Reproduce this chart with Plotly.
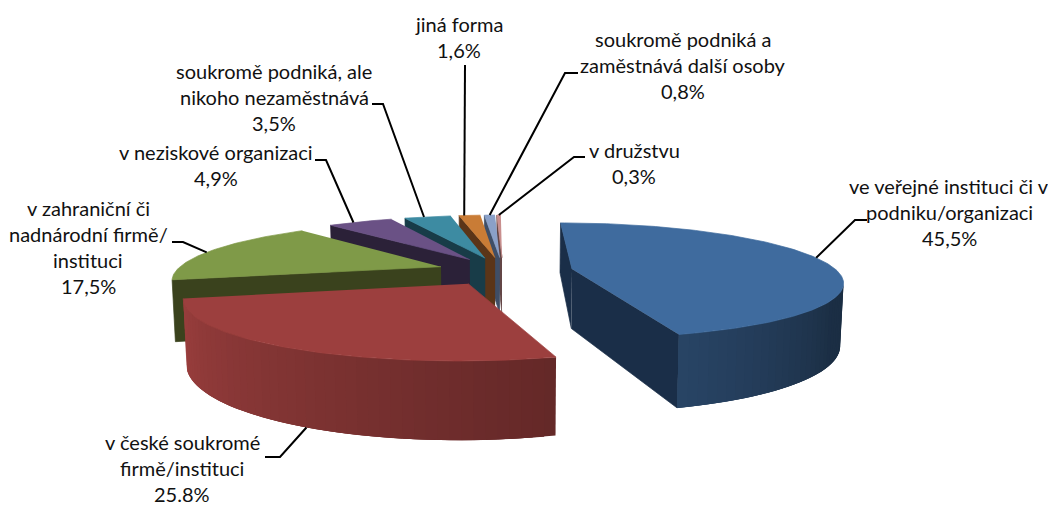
import numpy as np
import plotly.graph_objects as go

categories = ["ve veřejné instituci či v\npodniku/organizaci", "v české soukromé\nfirmě/instituci",
              "v zahraniční či\nnadnárodní firmě/\ninstituci", "v neziskové organizaci",
              "soukromě podniká, ale\nnikoho nezaměstnává", "jiná forma",
              "soukromě podniká a\nzaměstnává další osoby", "v družstvu"]
values = [45.5, 25.8, 17.5, 4.9, 3.5, 1.6, 0.8, 0.3]
value_labels = ["45,5%", "25.8%", "17,5%", "4,9%", "3,5%", "1,6%", "0,8%", "0,3%"]

top_colors = ["#3f6b9e", "#9c3f3e", "#7f9a48", "#6a5185", "#3d8ba2", "#c97c36", "#8aa0c8", "#c98f8e"]
side_colors = ["#1a2e48", "#652827", "#3a421d", "#2b2138", "#183c48", "#5b3518", "#3f4e66", "#634646"]

# Layout of the labels: centre x, y of the first line, elbow of the leader, depth where it lands
label_x = [949, 182, 88, 216, 274, 459, 683, 634]
label_y = [186, 442, 208, 152, 71, 24, 39, 150]
elbow_a = [(867, 220), (265, 457), (172, 242), (315, 160), (372, 104), None, (578, 73), (585, 157)]
elbow_b = [(855, 220), (280, 457), (183, 242), (326, 160), (383, 104), (465, 65), (565, 73), (574, 157)]
leader_depth = [0, 1, 0, 0, 0, 0, 0, 0]
leader_shift = [-4, -3, -2, -2, -1, -1.5, 0, 0]

# Projection of the 3-D pie
CX, CY, A, B, K, DEPTH, TAPER = 503, 271, 265, 56, 0.2, 60, 0.01
EXPLODE = [0.265, 0.25, 0.25, 0.25, 0.25, 0.25, 0.25, 0.25]
LINE_STEP = 26
FONT = "Lato"
FONT_SIZE = 20
PAGE_MARGIN = 8  # the page body offsets the figure by this much


def project(X, Y, Z=0.0):
    s = 1 / (1 + K * Y)
    x = CX + A * X * s * (1 - TAPER * Z)
    y = CY - B * Y * s + DEPTH * s * Z
    return x, y


def mix(c, f):
    r, g, b = (int(c[i:i + 2], 16) for i in (1, 3, 5))
    return f"rgb({r * f:.0f},{g * f:.0f},{b * f:.0f})"


def wall_factor(a):
    return float(np.interp(a, [90, 120, 150, 164, 257], [0.42, 0.43, 0.58, 0.64, 1.0]))


fig = go.Figure()


def poly(xs, ys, color, width=0.7):
    fig.add_trace(go.Scatter(x=list(xs), y=list(ys), mode="lines", fill="toself", fillcolor=color,
                             line=dict(color=color, width=width), hoverinfo="skip", showlegend=False))


total = 100.0
edges = np.concatenate([[0], np.cumsum(values)]) * 360 / total
mids = (edges[:-1] + edges[1:]) / 2
apex = [(e * np.sin(np.radians(m)), e * np.cos(np.radians(m))) for e, m in zip(EXPLODE, mids)]
camera = (0.0, -1 / K)


def rim(i, a):
    r = np.radians(a)
    return apex[i][0] + np.sin(r), apex[i][1] + np.cos(r)


def cut_face(i, a, sign):
    px, py = rim(i, a)
    ax, ay = apex[i]
    r = np.radians(a)
    nx, ny = sign * np.cos(r), -sign * np.sin(r)
    if (camera[0] - ax) * nx + (camera[1] - ay) * ny > 0:
        p = [project(ax, ay), project(px, py), project(px, py, 1), project(ax, ay, 1)]
        poly([q[0] for q in p], [q[1] for q in p], side_colors[i])


def draw_slice(i):
    a0, a1 = edges[i], edges[i + 1]
    cut_face(i, a0, -1)
    cut_face(i, a1, 1)
    steps = max(2, int(np.ceil((a1 - a0) / 2)))
    grid = np.linspace(a0, a1, steps + 1)
    h = grid[1] - grid[0]
    for u, v in zip(grid[:-1], grid[1:]):
        m = (u + v) / 2
        r = np.radians(m)
        px, py = rim(i, m)
        if (camera[0] - px) * np.sin(r) + (camera[1] - py) * np.cos(r) <= 0:
            continue
        # each strip overlaps the next, so that no seam shows between them
        arc = np.linspace(u, min(v + 2 * h, a1), 6)
        upper = [project(*rim(i, a)) for a in arc]
        lower = [project(*rim(i, a), 1) for a in arc[::-1]]
        pts = upper + lower
        f = wall_factor(m)
        color = mix(top_colors[0 if i == 0 else 1], f) if i < 2 else side_colors[i]
        poly([q[0] for q in pts], [q[1] for q in pts], color, width=0)
    arc = [project(*rim(i, a)) for a in np.linspace(a0, a1, max(3, int(a1 - a0) + 2))]
    ap = project(*apex[i])
    poly([ap[0]] + [q[0] for q in arc], [ap[1]] + [q[1] for q in arc], top_colors[i])


for i in [7, 6, 5, 4, 3, 2, 0, 1]:
    draw_slice(i)

# Leader lines: each one lands on the rim near the middle of its slice
for i in range(len(values)):
    end = project(*rim(i, mids[i] + leader_shift[i]), leader_depth[i])
    pts = [p for p in (elbow_a[i], elbow_b[i]) if p is not None] + [end]
    fig.add_trace(go.Scatter(x=[p[0] for p in pts], y=[p[1] for p in pts], mode="lines",
                             line=dict(color="#000000", width=2), hoverinfo="skip", showlegend=False))

annotations = []
for i, cat in enumerate(categories):
    lines = cat.split("\n") + [value_labels[i]]
    for j, text in enumerate(lines):
        annotations.append(dict(x=label_x[i], y=label_y[i] + j * LINE_STEP, text=text, showarrow=False,
                                xanchor="center", yanchor="middle", xref="x", yref="y",
                                font=dict(family=FONT, size=FONT_SIZE, color="#111111")))

fig.update_layout(width=1056 - PAGE_MARGIN, height=507 - PAGE_MARGIN, margin=dict(l=0, r=0, t=0, b=0),
                  paper_bgcolor="white", plot_bgcolor="white", annotations=annotations,
                  xaxis=dict(range=[PAGE_MARGIN, 1056], visible=False, fixedrange=True),
                  yaxis=dict(range=[507, PAGE_MARGIN], visible=False, fixedrange=True), showlegend=False)
fig.write_html("out.html", config={"displayModeBar": False})
